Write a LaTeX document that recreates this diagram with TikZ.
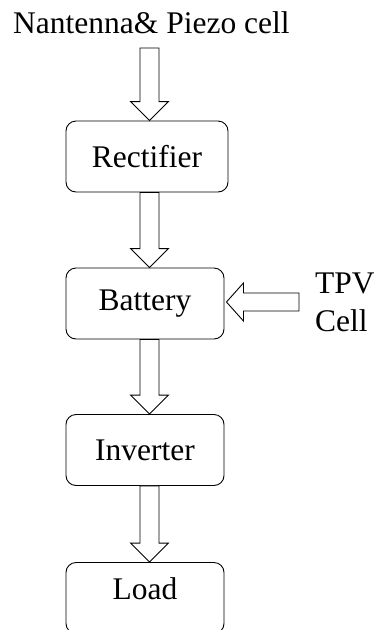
\documentclass[tikz,border=0pt]{standalone}
\usepackage{fontspec}
\setmainfont{Liberation Serif}
\usetikzlibrary{calc}
\begin{document}
\begin{tikzpicture}[x=1pt,y=-1pt,
  box/.style={draw, line width=0.9pt, rounded corners=10pt, minimum width=158pt, minimum height=71pt, inner sep=0pt, font=\fontsize{31.5}{38}\selectfont},
  lbl/.style={inner sep=0pt, font=\fontsize{31.5}{38}\selectfont},
  blk/.style={draw, line width=0.9pt, fill=white}]
\clip (0,0) rectangle (374,630);
\useasboundingbox (0,0) rectangle (374,630);
\node[lbl, anchor=base west] (src) at (13,33) {Nantenna\& Piezo cell};
\coordinate (srcend) at (149.5,48);
\node[box, minimum width=162pt] (rect) at (147,156.5) {Rectifier};
\node[box] (batt) at (145,303.5) {Battery};
\node[box] (inv) at (145,450) {Inverter};
\node[box] (load) at (145,598) {};
\node[lbl, anchor=base] at (145,599) {Load};
\node[lbl, anchor=base west, align=left] (tpv) at (315,331) {TPV\\Cell};
\coordinate (tpvend) at (299,302);
% downward block arrows
\foreach \a/\b in {srcend/rect.north, rect.south/batt.north, batt.south/inv.north, inv.south/load.north}{
  \draw[blk] let \p1=(\a), \p2=(\b) in
    (149.5-9.5,\y1) -- (149.5+9.5,\y1) -- (149.5+9.5,\y2+19pt) -- (149.5+19,\y2+19pt)
    -- (149.5,\y2) -- (149.5-19,\y2+19pt) -- (149.5-9.5,\y2+19pt) -- cycle;
}
% left block arrow from TPV cell
\draw[blk] let \p1=(tpvend), \p2=(batt.east) in
  (\x1,\y1+9pt) -- (\x1,\y1-9pt) -- (\x2+19pt,\y1-9pt) -- (\x2+19pt,\y1-19pt)
  -- (\x2+2pt,\y1) -- (\x2+19pt,\y1+19pt) -- (\x2+19pt,\y1+9pt) -- cycle;
\end{tikzpicture}
\end{document}
